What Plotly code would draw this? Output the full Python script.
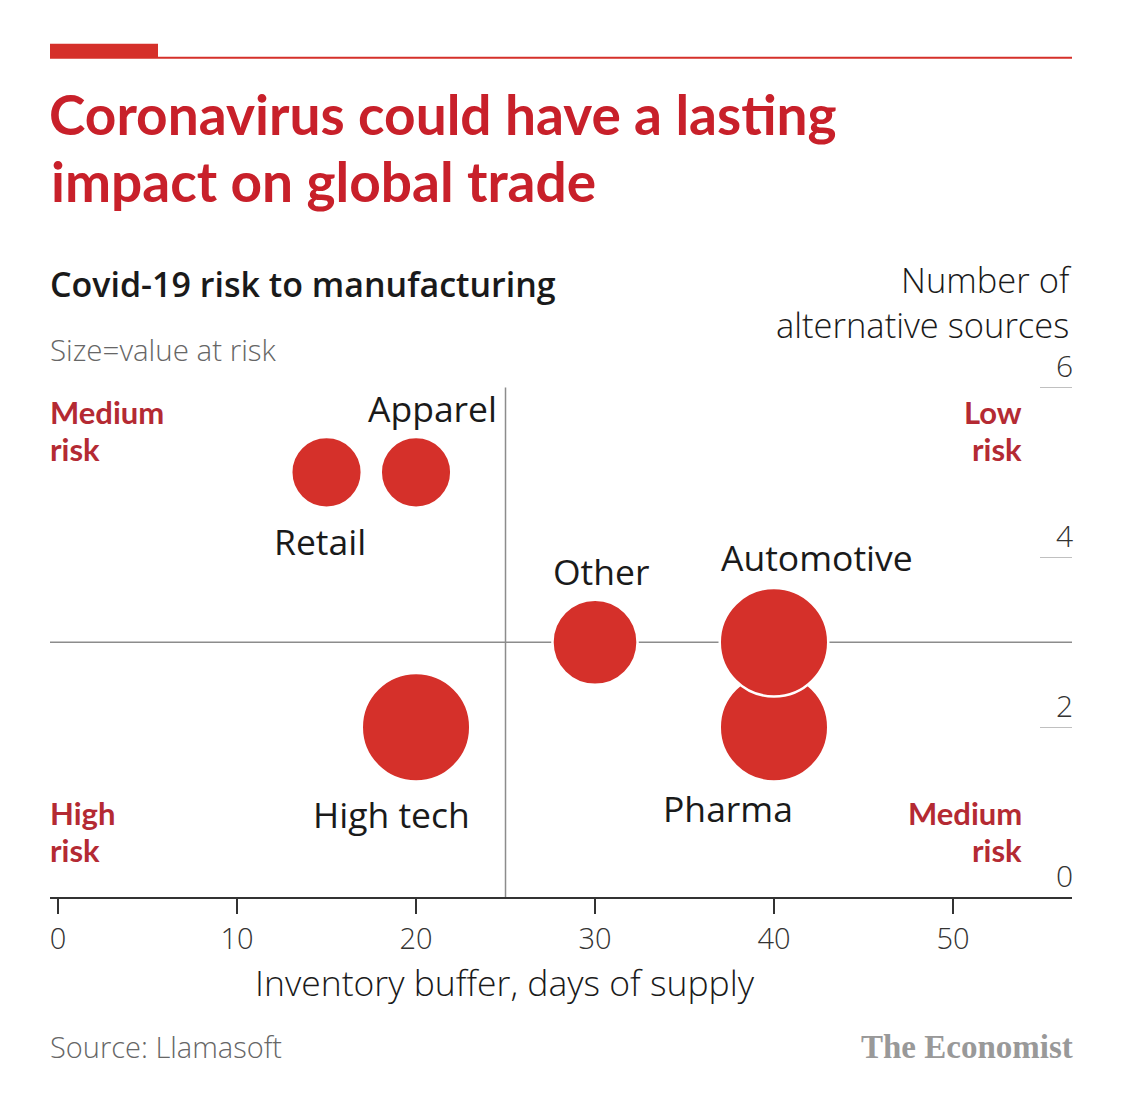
import plotly.graph_objects as go

# ---- data ----
industries = ["Retail", "Apparel", "Other", "High tech", "Pharma", "Automotive"]
inventory_days = [15, 20, 30, 20, 40, 40]
alt_sources = [5, 5, 3, 2, 2, 3]
value_at_risk = [1.1, 1.1, 1.6, 2.6, 2.6, 2.6]  # relative bubble area
x_ticks = [0, 10, 20, 30, 40, 50]
y_ticks = [0, 2, 4, 6]
quadrants = [("Medium", "risk", "left", "top"), ("Low", "risk", "right", "top"),
             ("High", "risk", "left", "bottom"), ("Medium", "risk", "right", "bottom")]

# ---- layout geometry (pixels) ----
W, H = 1125, 1103
L, R, B = 50, 1072, 897
Y_TOP = 6.7
PX_PER_UNIT = 85
T = B - Y_TOP * PX_PER_UNIT


def px(x):
    return (x - L) / (R - L)


def py(y):
    return (B - y) / (B - T)


RED = "#d5302a"
TITLE_RED = "#c8202a"
QRED = "#b42a33"
FONT = "Open Sans"

max_diam = 108.5
sizeref = 2.0 * max(value_at_risk) / (max_diam ** 2)

fig = go.Figure()
fig.add_trace(go.Scatter(
    x=inventory_days, y=alt_sources, mode="markers",
    marker=dict(size=value_at_risk, sizemode="area", sizeref=sizeref,
                color=RED, opacity=1, line=dict(color="white", width=2.5)),
    hoverinfo="text", text=industries, showlegend=False,
))

# label offsets (pixels) per industry
offsets = {"Retail": (-7, -69), "Apparel": (16, 64), "Other": (6, 71),
           "High tech": (-25, -87), "Pharma": (-46, -81), "Automotive": (43, 85)}
annotations = []
for name, xv, yv in zip(industries, inventory_days, alt_sources):
    dx, dy = offsets[name]
    annotations.append(dict(x=xv, y=yv, xref="x", yref="y", text=name, showarrow=False,
                            xshift=dx, yshift=dy, xanchor="center", yanchor="middle",
                            font=dict(family=FONT, size=35.5, color="#1a1a1a")))

# quadrant labels (two lines each)
qpos = {("left", "top"): (48, 412), ("right", "top"): (1024, 412),
        ("left", "bottom"): (48, 813), ("right", "bottom"): (1024, 813)}
for line1, line2, hx, vy in quadrants:
    x0, y0 = qpos[(hx, vy)]
    for k, t in enumerate((line1, line2)):
        annotations.append(dict(x=px(x0), y=py(y0 + 37 * k), xref="paper", yref="paper",
                                text=t, showarrow=False, xanchor=hx, yanchor="middle",
                                height=34,
                                font=dict(family="Lato", size=31, color=QRED, weight="bold")))

# titles and notes
annotations += [
    dict(x=px(47), y=py(113), xref="paper", yref="paper", text="Coronavirus could have a lasting",
         showarrow=False, xanchor="left", yanchor="middle",
         font=dict(family="Lato", size=55, color=TITLE_RED, weight="bold")),
    dict(x=px(49), y=py(180), xref="paper", yref="paper", text="impact on global trade",
         showarrow=False, xanchor="left", yanchor="middle",
         font=dict(family="Lato", size=55, color=TITLE_RED, weight="bold")),
    dict(x=px(48), y=py(283), xref="paper", yref="paper", text="Covid-19 risk to manufacturing",
         showarrow=False, xanchor="left", yanchor="middle",
         font=dict(family=FONT, size=34, color="#1a1a1a", weight=600)),
    dict(x=px(48), y=py(349), xref="paper", yref="paper", text="Size=value at risk",
         showarrow=False, xanchor="left", yanchor="middle",
         font=dict(family=FONT, size=29.5, color="#666666", weight=300)),
    dict(x=px(1074), y=py(301), xref="paper", yref="paper",
         text="Number of<br>alternative sources",
         showarrow=False, xanchor="right", yanchor="middle", align="right",
         font=dict(family=FONT, size=34.5, color="#1a1a1a", weight=300)),
    dict(x=px(505), y=py(982), xref="paper", yref="paper", text="Inventory buffer, days of supply",
         showarrow=False, xanchor="center", yanchor="middle",
         font=dict(family=FONT, size=35.5, color="#1a1a1a", weight=300)),
    dict(x=px(48), y=py(1047), xref="paper", yref="paper", text="Source: Llamasoft",
         showarrow=False, xanchor="left", yanchor="middle",
         font=dict(family=FONT, size=29, color="#666666", weight=300)),
    dict(x=px(1075), y=py(1047), xref="paper", yref="paper", text="The Economist",
         showarrow=False, xanchor="right", yanchor="middle",
         font=dict(family="Liberation Serif", size=33, color="#999999", weight="bold")),
]

shapes = [
    # quadrant dividers
    dict(type="line", xref="paper", yref="y", x0=0, x1=1, y0=3, y1=3,
         line=dict(color="#8c8c8c", width=1.5), layer="below"),
    dict(type="line", xref="x", yref="y", x0=25, x1=25, y0=0, y1=6,
         line=dict(color="#8c8c8c", width=1.5), layer="below"),
    # header rule
    dict(type="line", xref="paper", yref="paper", x0=0, x1=1, y0=py(57), y1=py(57),
         line=dict(color=RED, width=2)),
    dict(type="rect", xref="paper", yref="paper", x0=0, x1=px(158), y0=py(57), y1=py(43),
         line=dict(width=0), fillcolor=RED),
]

fig.update_layout(
    width=W, height=H,
    margin=dict(l=L, r=W - R, t=T, b=H - B, pad=0),
    paper_bgcolor="white", plot_bgcolor="white",
    annotations=annotations, shapes=shapes,
    xaxis=dict(range=[-0.45, 56.65], tickvals=x_ticks, ticks="outside", ticklen=15,
               tickwidth=1.5, tickcolor="#333333", showline=True, linecolor="#333333",
               linewidth=2, showgrid=False, zeroline=False,
               tickfont=dict(family=FONT, size=29, color="#333333", weight=300)),
    yaxis=dict(range=[0, Y_TOP], tickvals=y_ticks, side="right", ticks="inside", ticklen=32,
               tickwidth=1.2, tickcolor="#c0c0c0", showline=False, showgrid=False,
               zeroline=False, ticklabelposition="inside top",
               ticklabelstandoff=-4, ticklabelshift=1,
               tickfont=dict(family=FONT, size=30, color="#333333", weight=300)),
)

fig.write_html("out.html")
